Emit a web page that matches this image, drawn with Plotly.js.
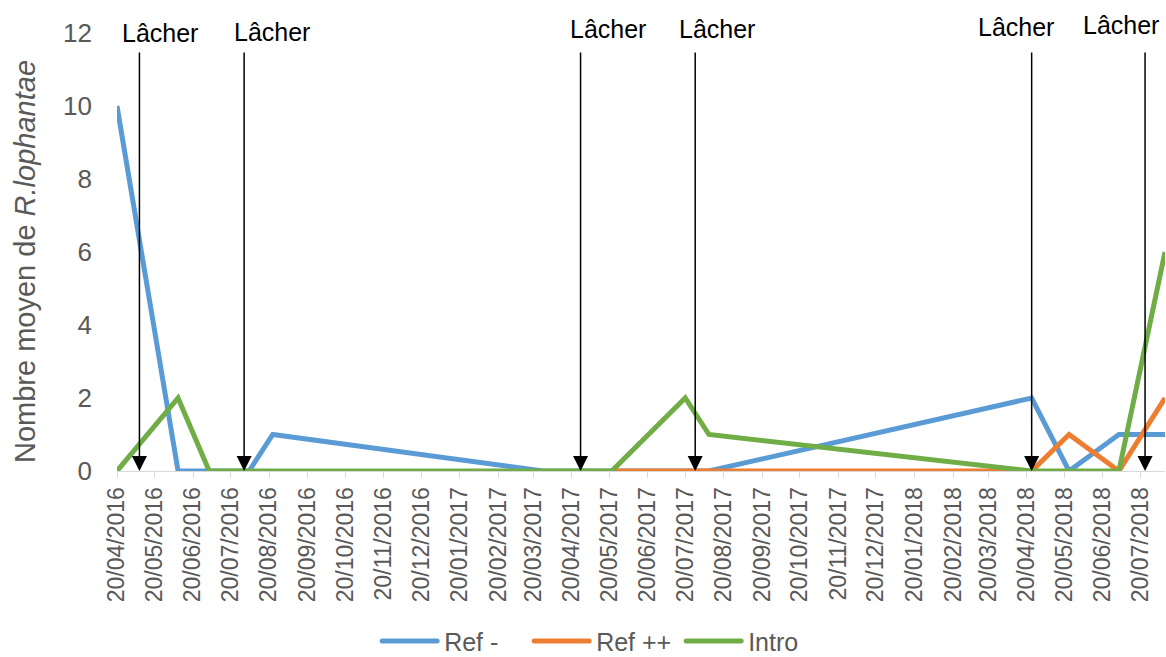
<!DOCTYPE html>
<html><head><meta charset="utf-8">
<script src="https://cdn.plot.ly/plotly-3.0.1.min.js"></script>
<style>html,body{margin:0;padding:0;background:#fff}#chart{width:1166px;height:657px}</style>
</head><body><div id="chart"></div>
<script>
// Sampling dates (shared by all series)
const sampleDates = ['2016-04-20','2016-06-08','2016-07-03','2016-08-04','2016-08-23','2017-03-28','2017-05-22','2017-07-20','2017-08-08','2018-04-24','2018-05-24','2018-07-03','2018-08-09'];
// Series values (null = no observation)
const refMoins    = [10, 0, 0, 0, 1, 0, 0, 0, 0, 2, 0, 1, 1];
const refPlusPlus = [null, null, null, null, null, null, 0, 0, 0, 0, 1, 0, 2];
const intro       = [0, 2, 0, 0, 0, 0, 0, 2, 1, 0, 0, 0, 6];
// Release ("Lâcher") dates
const releaseDates = ['2016-05-08','2016-07-31','2017-04-27','2017-07-28','2018-04-24','2018-07-24'];
const releaseLabel = 'Lâcher';
// X tick labels
const tickLabels = ['20/04/2016','20/05/2016','20/06/2016','20/07/2016','20/08/2016','20/09/2016','20/10/2016','20/11/2016','20/12/2016','20/01/2017','20/02/2017','20/03/2017','20/04/2017','20/05/2017','20/06/2017','20/07/2017','20/08/2017','20/09/2017','20/10/2017','20/11/2017','20/12/2017','20/01/2018','20/02/2018','20/03/2018','20/04/2018','20/05/2018','20/06/2018','20/07/2018'];
const yTicks = [0, 2, 4, 6, 8, 10, 12];
const yTitle = 'Nombre moyen de <i>R.lophantae</i>';

const FONT = 'Liberation Sans, Arial, sans-serif';
const GREY = '#595959';
const tickVals = tickLabels.map(s => { const p = s.split('/'); return p[2] + '-' + p[1] + '-' + p[0]; });

const mk = (name, y, color) => ({
  type: 'scatter', mode: 'lines', name: name, x: sampleDates, y: y,
  connectgaps: true, line: {color: color, width: 5}, hoverinfo: 'skip'
});
const data = [
  mk('Ref -', refMoins, '#5B9BD5'),
  mk('Ref ++', refPlusPlus, '#ED7D31'),
  mk('Intro', intro, '#70AD47')
];

// label placement style (pixel offsets of the text boxes relative to each arrow)
const labelXShift = [21, 28, 27, 22, -16, -24];
const labelYShift = [0, 1, 4, 4, 6, 8];
const annotations = [];
releaseDates.forEach((d, i) => {
  annotations.push({x: d, y: 0, xref: 'x', yref: 'y', ax: 0, ay: -420, text: '',
    showarrow: true, arrowhead: 2, arrowsize: 2, arrowwidth: 1.5, arrowcolor: '#000', standoff: 0});
  annotations.push({x: d, y: 12, xref: 'x', yref: 'y', text: releaseLabel, showarrow: false,
    xshift: labelXShift[i], yshift: labelYShift[i], font: {family: FONT, size: 25, color: '#000'}});
});
// y-axis title
annotations.push({x: 0, y: 0.5, xref: 'paper', yref: 'paper', text: yTitle, textangle: -90,
  showarrow: false, xanchor: 'center', yanchor: 'middle', xshift: -92, yshift: -10,
  font: {family: FONT, size: 29, color: GREY}});

const layout = {
  width: 1166, height: 657,
  margin: {l: 117, r: 1, t: 33, b: 186},
  paper_bgcolor: '#fff', plot_bgcolor: '#fff',
  font: {family: FONT, color: GREY},
  showlegend: true,
  legend: {orientation: 'h', xref: 'container', yref: 'container', x: 0.519, xanchor: 'center',
    y: 0.024, yanchor: 'middle', itemwidth: 57, entrywidth: 80, tracegroupgap: 0,
    font: {family: FONT, size: 25, color: GREY}},
  xaxis: {
    type: 'date', range: [sampleDates[0], sampleDates[sampleDates.length - 1]],
    tickmode: 'array', tickvals: tickVals, ticktext: tickLabels, tickangle: -90,
    tickfont: {family: FONT, size: 23, color: GREY},
    showgrid: false, zeroline: false, showline: true, linecolor: '#D9D9D9', linewidth: 1,
    ticks: 'outside', ticklen: 6, tickcolor: '#D9D9D9', tickwidth: 1, fixedrange: true
  },
  yaxis: {
    range: [0, 12], tickmode: 'array', tickvals: yTicks,
    tickfont: {family: FONT, size: 26, color: GREY},
    showgrid: false, zeroline: false, showline: false, ticks: '', ticklabelstandoff: 24,
    fixedrange: true
  },
  annotations: annotations
};
Plotly.newPlot('chart', data, layout, {displayModeBar: false, staticPlot: true}).then(() => {
  // lengthen the legend line samples to match the reference's longer keys
  document.querySelectorAll('#chart .legendlines path').forEach(p => {
    p.setAttribute('d', 'M5,0h55');
    p.style.strokeLinecap = 'round';
  });
});
</script>
</body></html>
